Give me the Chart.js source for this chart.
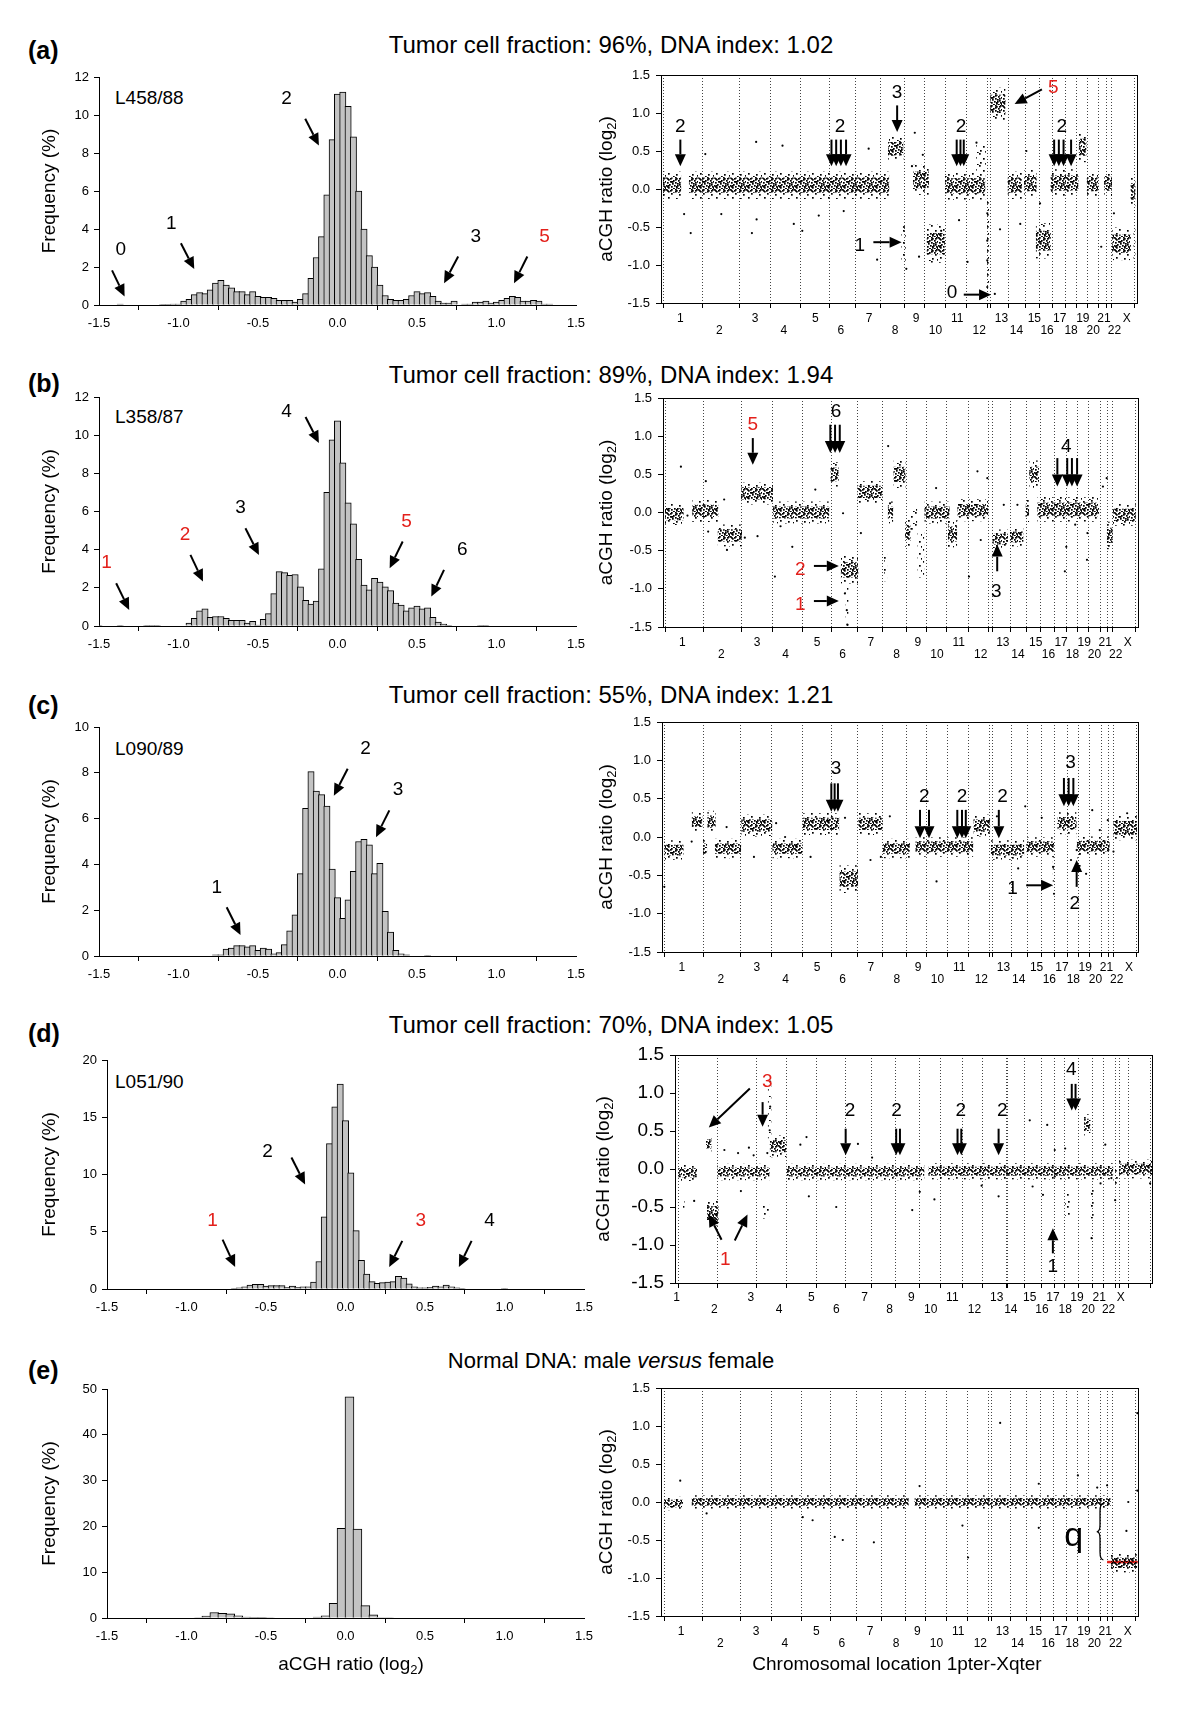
<!DOCTYPE html>
<html>
<head>
<meta charset="utf-8">
<script src="https://cdn.jsdelivr.net/npm/chart.js@4.4.1/dist/chart.umd.min.js"></script>
<style>
  body { margin: 0; background: #fff; width: 1200px; height: 1710px; position: relative; overflow: hidden;
         font-family: "Liberation Sans", Arial, Helvetica, sans-serif; color: #000; }
  canvas { position: absolute; }
  .pl { position: absolute; left: 28px; font-weight: bold; font-size: 25px; line-height: 28px; }
  .tt { position: absolute; left: 0; width: 1222px; text-align: center; font-size: 24px; line-height: 26px; }
  .sl { position: absolute; left: 115px; font-size: 19px; line-height: 22px; }
</style>
</head>
<body>
<div class="pl" style="top:36px">(a)</div>
<div class="pl" style="top:369px">(b)</div>
<div class="pl" style="top:691px">(c)</div>
<div class="pl" style="top:1019px">(d)</div>
<div class="pl" style="top:1356px">(e)</div>
<div class="tt" style="top:32px">Tumor cell fraction: 96%, DNA index: 1.02</div>
<div class="tt" style="top:362px">Tumor cell fraction: 89%, DNA index: 1.94</div>
<div class="tt" style="top:682px">Tumor cell fraction: 55%, DNA index: 1.21</div>
<div class="tt" style="top:1012px">Tumor cell fraction: 70%, DNA index: 1.05</div>
<div class="tt" style="top:1348px;font-size:22px">Normal DNA: male <i>versus</i> female</div>
<div class="sl" style="top:87px">L458/88</div>
<div class="sl" style="top:406px">L358/87</div>
<div class="sl" style="top:738px">L090/89</div>
<div class="sl" style="top:1071px">L051/90</div>
<script>
// ---------- histogram data: frequency (%) per bin ----------
const binCentres = Array.from({ length: 91 }, (_, i) => -1.5 + i / 30);   // bins 1/30 wide
const binCentresE = Array.from({ length: 60 }, (_, k) => -1.475 + k * 0.05); // bins 0.05 wide

const freqA = [0,0,0,0,0.05,0,0,0,0,0,
  0,0,0.03,0.03,0.05,0.05,0.2,0.3,0.55,0.65,
  0.6,0.8,1.15,1.3,1.05,0.9,0.7,0.7,0.55,0.7,
  0.45,0.4,0.4,0.35,0.25,0.25,0.25,0.15,0.3,0.6,
  1.4,2.5,3.6,5.8,8.7,11.1,11.2,10.45,8.85,6.0,
  4.0,2.6,2.0,1.05,0.5,0.3,0.25,0.25,0.3,0.5,
  0.7,0.6,0.65,0.45,0.2,0.1,0.1,0.2,0,0.05,
  0.05,0.15,0.15,0.2,0.1,0.15,0.25,0.35,0.45,0.4,
  0.2,0.2,0.25,0.2,0.05,0.05,0,0,0,0,0];
const freqB = [0.03,0,0,0,0.03,0,0,0,0,0.03,
  0.03,0.03,0,0,0,0,0,0.15,0.4,0.8,
  0.9,0.45,0.5,0.5,0.4,0.3,0.3,0.3,0.15,0.25,
  0.05,0.35,0.65,1.7,2.85,2.8,2.65,2.7,2.05,1.35,
  1.15,1.3,3.0,7.0,9.75,10.75,8.55,6.45,5.35,3.5,
  2.15,1.9,2.5,2.3,2.05,1.85,1.2,1.1,0.8,0.95,
  1.05,0.9,0.95,0.45,0.2,0.1,0.03,0,0,0,
  0,0,0.03,0.03,0,0,0,0,0,0,
  0,0,0,0,0,0,0,0,0,0,0];
const freqC = [0,0,0,0,0,0,0,0,0,0,
  0,0,0,0,0,0,0,0,0,0,
  0,0,0.05,0.05,0.3,0.35,0.45,0.45,0.4,0.45,
  0.25,0.35,0.3,0.1,0.15,0.5,1.1,1.8,3.6,6.45,
  8.05,7.2,7.05,6.55,3.8,2.55,1.65,2.45,3.7,5.0,
  5.1,4.85,3.6,4.05,1.95,1.05,0.25,0.1,0.05,0,
  0,0,0.03,0,0,0,0,0,0,0,
  0,0,0,0,0,0,0,0,0,0,
  0,0,0,0,0,0,0,0,0,0,0];
const freqD = [0,0,0,0,0,0,0,0,0,0,
  0,0,0,0,0,0,0,0,0,0,
  0,0,0,0,0.05,0.1,0.2,0.35,0.4,0.4,
  0.25,0.3,0.3,0.3,0.15,0.25,0.15,0.2,0.2,0.6,
  2.4,6.3,12.7,15.9,17.9,14.7,10.15,5.1,2.5,1.3,
  0.65,0.5,0.55,0.6,0.65,1.1,0.95,0.45,0.2,0.1,
  0.1,0.15,0.25,0.2,0.35,0.2,0.1,0.05,0,0,
  0,0,0,0,0,0.05,0,0,0,0,
  0,0,0,0,0,0,0,0,0,0,0];
const freqE = [0,0,0,0,0,0,0,0,0,0,
  0,0.1,0.4,1.2,1.0,0.9,0.5,0.2,0.15,0.15,
  0.1,0,0,0,0,0,0.2,0.5,3.2,19.6,
  48.3,19.4,2.7,0.7,0.1,0.1,0,0,0,0,
  0,0,0,0,0,0,0,0,0,0,
  0,0,0,0,0,0,0,0,0,0];

// ---------- genome axis (position in % of genome, 1pter -> Xqter) ----------
const chrNames = ['1','2','3','4','5','6','7','8','9','10','11','12','13','14','15','16','17','18','19','20','21','22','X'];
const chrLines = [0,8.2,16.1,22.7,29.2,35.3,40.9,46.2,51.2,55.5,59.9,64.4,68.8,69.5,73.4,76.9,79.8,82.7,85.3,87.7,90.0,92.5,94.1,95.2,100];
const chrLabelPos = [3.7,12.0,19.6,25.7,32.4,37.8,43.8,49.3,53.8,57.9,62.5,67.2,71.9,75.1,78.9,81.6,84.3,86.7,89.2,91.4,93.7,95.9,98.5];
const chrLinesD = [0,8.3,16.4,22.8,29.3,35.3,40.9,46.0,51.0,55.5,60.1,64.3,69.4,69.7,73.3,76.9,79.7,81.8,84.7,87.6,90.1,92.6,93.4,95.3,100];
const chrLabelPosD = [-0.3,7.7,15.4,21.4,28.2,33.5,39.5,44.8,49.4,53.5,58.1,62.8,67.5,70.5,74.5,77.1,79.4,82.0,84.5,86.9,89.2,91.2,93.8];

// ---------- aCGH profiles: segments [start %, end %, log2 level, half spread] ----------
const segA = [[0,3.9,0.05,0.1],[5.5,48.1,0.05,0.1],[47.8,51.1,0.53,0.09],[53.1,56.5,0.12,0.11],[56.0,59.9,-0.72,0.14],
  [59.9,68.5,0.04,0.1],[69.5,72.8,1.12,0.12],[73.2,76.3,0.05,0.1],[76.7,79.4,0.07,0.1],[79.2,82.4,-0.68,0.13],
  [82.3,88.3,0.08,0.1],[88.3,90.0,0.55,0.11],[90.0,92.5,0.06,0.09],[93.7,95.4,0.07,0.09],[95.4,99.4,-0.72,0.12],[99.3,100.4,-0.03,0.11]];
const streakA = [[50.6,51.6,-0.75,0.25],[68.6,69.3,-0.7,0.55],[66.5,68.6,0.4,0.2],[99.9,100.4,-0.7,0.25]];
const outA = [[4.5,-0.33],[5.9,-0.58],[9.0,0.46],[12.4,-0.33],[18.9,-0.58],[19.8,0.62],[19.9,-0.40],[25.4,0.57],[27.8,-0.46],
  [29.6,-0.55],[33.1,-0.35],[38.4,-0.29],[43.7,0.53],[45.5,-0.93],[53.5,0.74],[54.4,-0.89],[59.1,-0.55],[62.9,-0.41],[64.7,-0.96],
  [66.6,0.61],[68.9,-0.32],[68.9,-0.68],[68.9,-0.94],[68.9,-1.29],[70.5,-1.38],[71.6,-0.53],[75.9,-0.46],[77.2,0.50],[80.1,-0.19],
  [93.1,-0.76],[95.8,-0.32],[51.7,-1.05],[51.2,-0.5],[55.2,0.45],[52.9,0.3]];

const segB = [[0,4.0,-0.02,0.08],[5.8,11.4,0.02,0.08],[11.2,16.4,-0.3,0.08],[16.2,23.0,0.25,0.08],[23.0,35.0,0.0,0.08],
  [35.2,37.0,0.5,0.09],[37.4,41.2,-0.75,0.1],[41.0,46.3,0.27,0.08],[47.4,48.6,0.0,0.08],[48.6,51.2,0.5,0.1],[51.1,52.3,-0.27,0.1],
  [55.2,60.6,0.0,0.08],[60.2,62.2,-0.28,0.1],[62.2,68.8,0.03,0.08],[69.7,73.0,-0.35,0.07],[73.4,76.3,-0.32,0.07],[76.7,77.5,0.02,0.08],
  [77.5,79.6,0.5,0.1],[79.2,92.4,0.04,0.09],[94.0,95.3,-0.3,0.1],[95.3,100.2,-0.03,0.08]];
const streakB = [[46.6,47.3,-0.72,0.18],[53.7,55.2,-0.55,0.3],[38.4,39.1,-1.2,0.3],[52.3,53.7,-0.1,0.15]];
const outB = [[3.4,0.60],[4.8,-0.04],[8.7,0.41],[9.2,-0.25],[12.6,0.17],[13.2,-0.49],[17,-0.33],[19.7,-0.31],[23.4,-0.84],[24.6,-0.18],
  [27.1,-0.45],[32,0.30],[38.3,-1.06],[38.7,-1.28],[38.8,-1.47],[37.9,-0.01],[47.5,0.87],[41.7,-0.27],[47.9,0.12],[57.7,0.32],
  [64.7,-0.84],[66.5,0.54],[67.2,-0.36],[68.6,0.45],[72.1,0.10],[75,0.10],[85.1,-0.77],[85.4,-0.45],[87.3,-0.16],[89.8,-0.62],
  [89.9,-0.27],[93.2,0.34],[94,0.45],[64.7,0.08]];

const segC = [[0,4.1,-0.17,0.07],[5.8,8.1,0.2,0.07],[8.2,9.1,-0.15,0.07],[9.1,10.9,0.2,0.08],[10.7,16.3,-0.15,0.07],
  [16.3,22.9,0.15,0.08],[22.9,29.3,-0.15,0.07],[29.3,37.1,0.17,0.08],[37.1,41.1,-0.55,0.1],[41.1,46.3,0.17,0.08],
  [46.3,52.1,-0.15,0.07],[53.2,65.5,-0.13,0.07],[65.5,69.1,0.15,0.08],[69.2,76.3,-0.17,0.07],[76.7,82.6,-0.13,0.07],
  [83.3,87.4,0.18,0.08],[87.4,94.4,-0.12,0.07],[95.2,100.2,0.12,0.09]];
const streakC = [[82.3,82.8,-0.45,0.25],[87.5,88.3,-0.3,0.15]];
const outC = [[0,-0.65],[5.8,-0.06],[13.2,0.13],[19,-0.26],[23.7,0.18],[25.6,0.0],[28,-0.13],[31,-0.26],[34.6,0.22],[38.3,0.25],
  [43.7,-0.30],[45.9,-0.26],[47.8,0.27],[57.7,-0.58],[66.8,0.09],[70.5,0.27],[75,-0.41],[76.5,0.40],[80,0.25],[82.4,-0.39],
  [82.6,-0.74],[86.2,-0.30],[87.4,-0.17],[89.4,-0.48],[90.7,0.35],[92.3,0.09],[94,0.22],[95.2,-0.19],[98.1,0.31]];

const segD = [[0,4.0,-0.05,0.06],[5.9,7.1,0.33,0.06],[6.1,8.6,-0.58,0.09],[8.3,19.4,-0.04,0.06],[19.4,23.0,0.3,0.08],
  [23.0,52.2,-0.04,0.06],[53.0,92.2,-0.03,0.06],[86.0,87.4,0.58,0.08],[93.4,100.4,0.0,0.07]];
const streakD = [[0.9,1.4,-0.48,0.1],[17.9,19.3,-0.55,0.1],[19.0,19.8,0.75,0.35],[82.0,83.1,-0.47,0.15],[87.4,88.1,-0.45,0.2],[92.2,93.4,-0.1,0.1]];
const outD = [[3.4,-0.42],[9.8,0.25],[12.7,0.21],[13.3,-0.29],[15.0,0.28],[16.0,0.18],[19.5,1.15],[19.5,0.82],[19.4,0.51],[18.9,0.21],
  [25.9,0.32],[27.2,0.42],[27.7,-0.36],[33.5,-0.50],[38.1,0.33],[41.1,0.15],[51.2,-0.30],[49.6,-0.54],[54.3,-0.40],[64.3,-0.22],
  [67.9,-0.36],[74.5,0.64],[78.2,0.58],[75.1,-0.23],[79.8,0.25],[79.8,-0.10],[82,0.27],[87.6,-0.91],[89.5,-0.19],[90.5,0.32],
  [92.6,-0.41],[100,-0.19],[77.3,-0.34],[91.8,-0.12]];

const segE = [[0,4.1,-0.02,0.05],[5.9,52.0,0.0,0.05],[53.2,94.9,0.0,0.05],[94.9,100.5,-0.8,0.07]];
const outE = [[71.4,1.04],[3.5,0.28],[100.5,1.17],[100.5,0.15],[36.3,-0.46],[38,-0.50],[44.6,-0.53],[63.4,-0.31],[64.6,-0.73],
  [79.6,-0.34],[98.6,0.0],[29.5,-0.2],[31.6,-0.24],[87.9,0.35],[79.6,0.24],[92,0.19],[94.1,0.22],[98.2,-0.38],[9.1,-0.15],[54.3,0.21]];
const xLevelE = [[94.1,-0.79],[100.6,-0.79]];

// ---------- annotations (data coordinates) ----------
const RED = '#e3201b';
const labHA = [[-1.363,2.9,'0'],[-1.045,4.3,'1'],[-0.321,10.86,'2'],[0.869,3.57,'3'],[1.302,3.57,'5',RED]];
const arrHA = [[-1.418,1.82,-1.339,0.45],[-0.985,3.25,-0.901,1.89],[-0.203,9.8,-0.117,8.4],[0.759,2.55,0.670,1.15],[1.194,2.55,1.110,1.15]];
const labHB = [[-1.452,3.3,'1',RED],[-0.959,4.78,'2',RED],[-0.61,6.17,'3'],[-0.321,11.25,'4'],[0.434,5.47,'5',RED],[0.785,3.99,'6']];
const arrHB = [[-1.392,2.24,-1.31,0.84],[-0.925,3.73,-0.846,2.33],[-0.579,5.12,-0.494,3.72],[-0.201,10.95,-0.117,9.59],[0.41,4.43,0.328,3.03],[0.67,2.94,0.59,1.54]];
const labHC = [[-0.759,2.96,'1'],[0.177,9.04,'2'],[0.381,7.26,'3']];
const arrHC = [[-0.697,2.13,-0.61,0.92],[0.064,8.18,-0.023,7.0],[0.326,6.36,0.242,5.19]];
const labHD = [[-0.49,11.98,'2'],[-0.836,6.0,'1',RED],[0.473,6.0,'3',RED],[0.906,6.0,'4']];
const arrHD = [[-0.34,11.49,-0.254,9.13],[-0.773,4.31,-0.694,1.92],[0.357,4.2,0.275,1.92],[0.793,4.2,0.713,1.92]];

const labSA = [[3.7,0.816,'2'],[37.6,0.816,'2'],[49.75,1.27,'3'],[63.3,0.816,'2'],[84.7,0.816,'2'],[82.9,1.33,'5',RED],[41.8,-0.745,'1'],[61.4,-1.36,'0']];
const arrSA = [[3.7,0.65,3.7,0.3],[35.8,0.65,35.8,0.3],[36.8,0.65,36.8,0.3],[37.8,0.65,37.8,0.3],[38.9,0.65,38.9,0.3],
  [49.75,1.1,49.75,0.75],[62.4,0.65,62.4,0.3],[63.2,0.65,63.2,0.3],[63.9,0.65,63.9,0.3],
  [83.1,0.65,83.1,0.3],[84.1,0.65,84.1,0.3],[85.1,0.65,85.1,0.3],[86.7,0.65,86.7,0.3],
  [80.5,1.31,74.7,1.12],[44.7,-0.70,50.7,-0.70],[63.9,-1.39,69.7,-1.39]];
const labSB = [[18.7,1.15,'5',RED],[36.4,1.325,'6'],[85.4,0.866,'4'],[28.8,-0.75,'2',RED],[28.8,-1.21,'1',RED],[70.5,-1.04,'3']];
const arrSB = [[18.7,0.975,18.7,0.625],[35.2,1.15,35.2,0.78],[36.2,1.15,36.2,0.78],[37.2,1.15,37.2,0.78],
  [83.5,0.713,83.5,0.34],[85.6,0.713,85.6,0.34],[86.6,0.713,86.6,0.34],[87.7,0.713,87.7,0.34],
  [31.7,-0.70,37.0,-0.70],[31.7,-1.16,37.0,-1.16],[70.7,-0.77,70.7,-0.42]];
const labSC = [[36.4,0.887,'3'],[55.1,0.52,'2'],[63.1,0.52,'2'],[71.7,0.52,'2'],[86.1,0.965,'3'],[73.8,-0.67,'1'],[87.0,-0.87,'2']];
const arrSC = [[35.4,0.70,35.4,0.33],[36.1,0.70,36.1,0.33],[36.8,0.70,36.8,0.33],
  [54.2,0.354,54.2,-0.017],[56.1,0.354,56.1,-0.017],[62.1,0.354,62.1,-0.017],[63.1,0.354,63.1,-0.017],[63.9,0.354,63.9,-0.017],
  [70.9,0.354,70.9,-0.017],[84.7,0.77,84.7,0.40],[85.7,0.77,85.7,0.40],[86.7,0.77,86.7,0.40],
  [76.7,-0.63,82.4,-0.63],[87.4,-0.65,87.4,-0.30]];
const labSD = [[18.9,1.146,'3',RED],[10.0,-1.19,'1',RED],[36.4,0.77,'2'],[46.3,0.77,'2'],[59.9,0.77,'2'],[68.7,0.77,'2'],[83.3,1.31,'4'],[79.4,-1.28,'1']];
const arrSD = [[15.2,1.06,6.5,0.547],[17.9,0.88,17.9,0.556],[9.2,-0.93,6.5,-0.6],[12.0,-0.94,14.7,-0.6],
  [35.5,0.53,35.5,0.18],[46.2,0.53,46.2,0.18],[47.0,0.53,47.0,0.18],[59.2,0.53,59.2,0.18],[60.0,0.53,60.0,0.18],
  [67.9,0.53,67.9,0.18],[83.4,1.12,83.4,0.77],[84.2,1.12,84.2,0.77],[79.4,-1.11,79.4,-0.78]];

// ---------- helpers ----------
const FONT = '"Liberation Sans", Arial, Helvetica, sans-serif';
Chart.defaults.font.family = FONT;
Chart.defaults.color = '#000';

function place(l, t, w, h) {
  const c = document.createElement('canvas');
  c.width = w; c.height = h;
  c.style.left = l + 'px'; c.style.top = t + 'px';
  document.body.appendChild(c);
  return c;
}

// speckle textures used to shade the probe clouds
function tilePattern(w, h, dots) {
  const c = document.createElement('canvas');
  c.width = w; c.height = h;
  const g = c.getContext('2d');
  g.fillStyle = '#000';
  dots.forEach(d => g.fillRect(d[0], d[1], 1.7, 1.7));
  return g.createPattern(c, 'repeat');
}
const dense = tilePattern(16, 12, [[0,0],[5,0],[10,1],[14,0],[2,2],[7,3],[12,3],[4,4],[9,5],[15,4],[1,5],[6,6],[11,6],
  [13,7],[3,7],[8,8],[0,8],[14,9],[5,9],[10,10],[2,10],[7,11],[12,11],[15,11],[4,1],[9,2],[13,1],[1,9],[6,4],[11,8]]);
const sparse = tilePattern(16, 12, [[1,1],[9,0],[5,4],[13,5],[2,8],[10,9],[7,11],[15,10]]);

function arrow(ctx, x1, y1, x2, y2) {
  const a = Math.atan2(y2 - y1, x2 - x1), hl = 12, hw = 5.5;
  const bx = x2 - hl * Math.cos(a), by = y2 - hl * Math.sin(a);
  ctx.strokeStyle = '#000'; ctx.fillStyle = '#000'; ctx.lineWidth = 2;
  ctx.beginPath(); ctx.moveTo(x1, y1); ctx.lineTo(bx, by); ctx.stroke();
  ctx.beginPath(); ctx.moveTo(x2, y2);
  ctx.lineTo(bx + hw * Math.sin(a), by - hw * Math.cos(a));
  ctx.lineTo(bx - hw * Math.sin(a), by + hw * Math.cos(a));
  ctx.closePath(); ctx.fill();
}

// text with a subscript part, optionally rotated
function subText(ctx, main, sub, tail, x, y, size, rot) {
  ctx.save();
  ctx.translate(x, y);
  if (rot) ctx.rotate(-Math.PI / 2);
  const f = size + 'px ' + FONT, fs = Math.round(size * 0.68) + 'px ' + FONT;
  ctx.font = f; const w1 = ctx.measureText(main).width, w3 = ctx.measureText(tail).width;
  ctx.font = fs; const w2 = ctx.measureText(sub).width;
  const x0 = -(w1 + w2 + w3) / 2;
  ctx.textBaseline = 'middle'; ctx.textAlign = 'left'; ctx.fillStyle = '#000';
  ctx.font = f; ctx.fillText(main, x0, 0);
  ctx.font = fs; ctx.fillText(sub, x0 + w1, size * 0.3);
  ctx.font = f; ctx.fillText(tail, x0 + w1 + w2, 0);
  ctx.restore();
}

function deco(d) {
  return {
    id: 'deco',
    beforeDatasetsDraw(chart) {
      if (!d.lines) return;
      const { ctx, chartArea: a, scales: { x } } = chart;
      ctx.save();
      ctx.setLineDash([1, 2]); ctx.strokeStyle = '#444'; ctx.lineWidth = 1;
      d.lines.forEach(v => {
        const px = Math.round(x.getPixelForValue(v)) + 0.5;
        ctx.beginPath(); ctx.moveTo(px, a.top); ctx.lineTo(px, a.bottom); ctx.stroke();
      });
      ctx.restore();
    },
    afterDraw(chart) {
      const { ctx, chartArea: a, scales: { x, y } } = chart;
      ctx.save();
      if (d.lines) {
        ctx.strokeStyle = '#000'; ctx.lineWidth = 1;
        ctx.strokeRect(Math.round(a.left) + 0.5, Math.round(a.top) + 0.5, Math.round(a.right - a.left), Math.round(a.bottom - a.top));
        d.lines.forEach(v => {
          const px = Math.round(x.getPixelForValue(v)) + 0.5;
          ctx.beginPath(); ctx.moveTo(px, a.bottom); ctx.lineTo(px, a.bottom + 5); ctx.stroke();
        });
      }
      (d.arrows || []).forEach(r => arrow(ctx, x.getPixelForValue(r[0]), y.getPixelForValue(r[1]), x.getPixelForValue(r[2]), y.getPixelForValue(r[3])));
      ctx.font = '19px ' + FONT; ctx.textAlign = 'center'; ctx.textBaseline = 'middle';
      (d.labels || []).forEach(l => { ctx.fillStyle = l[3] || '#000'; ctx.fillText(l[2], x.getPixelForValue(l[0]), y.getPixelForValue(l[1])); });
      const midY = (a.top + a.bottom) / 2;
      if (d.yTitle === 'freq') {
        ctx.save(); ctx.translate(d.yTitleX - d.ox, midY); ctx.rotate(-Math.PI / 2);
        ctx.font = '19px ' + FONT; ctx.fillStyle = '#000'; ctx.textAlign = 'center'; ctx.textBaseline = 'middle';
        ctx.fillText('Frequency (%)', 0, 0); ctx.restore();
      } else if (d.yTitle === 'ratio') {
        subText(ctx, 'aCGH ratio (log', '2', ')', d.yTitleX - d.ox, midY, 19, true);
      }
      if (d.xTitle === 'ratio') subText(ctx, 'aCGH ratio (log', '2', ')', d.xTitleX - d.ox, d.xTitleY - d.oy, 19, false);
      if (d.xTitle === 'chrom') {
        ctx.font = '19px ' + FONT; ctx.fillStyle = '#000'; ctx.textAlign = 'center'; ctx.textBaseline = 'middle';
        ctx.fillText('Chromosomal location 1pter-Xqter', d.xTitleX - d.ox, d.xTitleY - d.oy);
      }
      if (d.brace) {
        const xr = x.getPixelForValue(93.3), xm = x.getPixelForValue(92.6), xt = x.getPixelForValue(91.9);
        const yt = y.getPixelForValue(-0.02), yb = y.getPixelForValue(-0.76), ym = (yt + yb) / 2;
        ctx.strokeStyle = '#000'; ctx.lineWidth = 1.3;
        ctx.beginPath();
        ctx.moveTo(xr, yt); ctx.quadraticCurveTo(xm, yt, xm, yt + 8);
        ctx.lineTo(xm, ym - 7); ctx.quadraticCurveTo(xm, ym, xt, ym);
        ctx.quadraticCurveTo(xm, ym, xm, ym + 7);
        ctx.lineTo(xm, yb - 8); ctx.quadraticCurveTo(xm, yb, xr, yb);
        ctx.stroke();
        ctx.font = '34px ' + FONT; ctx.fillStyle = '#000'; ctx.textAlign = 'center'; ctx.textBaseline = 'middle';
        ctx.fillText('q', x.getPixelForValue(87.0), y.getPixelForValue(-0.46));
      }
      ctx.restore();
    }
  };
}

const baseOpts = {
  responsive: false, animation: false, events: [], devicePixelRatio: 1,
  plugins: { legend: { display: false }, tooltip: { enabled: false } }
};

// ---------- histogram panels ----------
function histogram(rect, bins, freq, binW, yMax, yStep, ann) {
  const YW = 80, XH = ann.xTitle ? 80 : 45;
  const ox = rect.l - YW, oy = rect.t - 30;
  const cv = place(ox, oy, rect.r - rect.l + YW + 30, rect.b - rect.t + 30 + XH);
  new Chart(cv, {
    type: 'bar',
    data: { datasets: [{
      data: bins.map((b, i) => ({ x: b, y: freq[i] })),
      backgroundColor: '#c3c3c3', borderColor: '#000', borderWidth: 1,
      barThickness: (rect.r - rect.l) * binW / 3 + 1
    }] },
    options: Object.assign({}, baseOpts, {
      layout: { padding: { left: 0, top: 30, right: 30, bottom: 0 } },
      scales: {
        x: { type: 'linear', min: -1.5, max: 1.5, offset: false,
          afterFit: s => { s.height = XH; },
          ticks: { stepSize: 0.5, padding: 6, color: '#000', font: { size: 13 }, callback: v => v.toFixed(1) },
          grid: { display: true, drawOnChartArea: false, tickLength: 5, tickColor: '#000' },
          border: { display: true, color: '#000' } },
        y: { min: 0, max: yMax,
          afterFit: s => { s.width = YW; },
          ticks: { stepSize: yStep, padding: 5, color: '#000', font: { size: 13 } },
          grid: { display: true, drawOnChartArea: false, tickLength: 5, tickColor: '#000' },
          border: { display: true, color: '#000' } }
      }
    }),
    plugins: [deco(Object.assign({ ox, oy, yTitle: 'freq', yTitleX: 50 }, ann))]
  });
}

// ---------- genome profile panels ----------
function band(s, k, pat) {
  const hi = s[2] + s[3] * k, lo = s[2] - s[3] * k;
  return { data: [{ x: s[0], y: hi }, { x: s[1], y: hi }], fill: { value: lo },
    backgroundColor: pat, borderWidth: 0, pointRadius: 0 };
}

function profile(rect, p) {
  const XH = p.xTitle ? 80 : 45;
  const ox = 586, oy = rect.t - 30, YW = rect.l - ox;
  const cv = place(ox, oy, rect.r - rect.l + YW + 30, rect.b - rect.t + 30 + XH);
  const sets = [];
  p.streaks.forEach(s => sets.push(band(s, 1, sparse)));
  p.segs.forEach(s => sets.push(band(s, 1.8, sparse)));
  p.segs.forEach(s => sets.push(band(s, 1, dense)));
  sets.push({ data: p.out.map(q => ({ x: q[0], y: q[1] })), showLine: false, pointRadius: 1.1,
    pointBackgroundColor: '#000', pointBorderWidth: 0, borderWidth: 0 });
  if (p.red) sets.push({ data: p.red.map(q => ({ x: q[0], y: q[1] })), borderColor: RED, borderWidth: 2.5, pointRadius: 0, fill: false });
  const names = chrNames;
  new Chart(cv, {
    type: 'line',
    data: { datasets: sets },
    options: Object.assign({}, baseOpts, {
      layout: { padding: { left: 0, top: 30, right: 30, bottom: 0 } },
      scales: {
        x: { type: 'linear', min: p.xMin, max: p.xMax,
          afterBuildTicks: s => { s.ticks = p.labelPos.map(v => ({ value: v })); },
          afterFit: s => { s.height = XH; },
          grid: { display: false, drawTicks: false }, border: { display: false },
          ticks: { autoSkip: false, maxRotation: 0, minRotation: 0, padding: p.xPad || 10, color: '#000',
            font: { size: 12, lineHeight: 1 },
            callback: (v, i) => i % 2 === 0 ? [names[i], ''] : ['', names[i]] } },
        y: { min: -1.5, max: 1.5,
          afterFit: s => { s.width = YW; },
          ticks: { stepSize: 0.5, padding: 6, color: '#000', font: p.yFont || { size: 13 }, callback: v => v.toFixed(1) },
          grid: { display: true, drawOnChartArea: false, tickLength: 5, tickColor: '#000' },
          border: { display: false } }
      }
    }),
    plugins: [deco({ ox, oy, lines: p.lines, arrows: p.arrows, labels: p.labels, yTitle: 'ratio', yTitleX: p.yTitleX || 607,
      xTitle: p.xTitle, xTitleX: 897, xTitleY: 1665, brace: p.brace })]
  });
}

// histograms
histogram({ l: 99, r: 576, t: 77, b: 305 }, binCentres, freqA, 1 / 30, 12, 2, { labels: labHA, arrows: arrHA });
histogram({ l: 99, r: 576, t: 397, b: 626 }, binCentres, freqB, 1 / 30, 12, 2, { labels: labHB, arrows: arrHB });
histogram({ l: 99, r: 576, t: 727, b: 956 }, binCentres, freqC, 1 / 30, 10, 2, { labels: labHC, arrows: arrHC });
histogram({ l: 107, r: 584, t: 1060, b: 1289 }, binCentres, freqD, 1 / 30, 20, 5, { labels: labHD, arrows: arrHD });
histogram({ l: 107, r: 584, t: 1389, b: 1618 }, binCentresE, freqE, 0.05, 50, 10, { xTitle: 'ratio', xTitleX: 351, xTitleY: 1665 });

// genome profiles
profile({ l: 661, r: 1137, t: 75, b: 303 }, { segs: segA, streaks: streakA, out: outA, lines: chrLines, labelPos: chrLabelPos,
  xMin: -0.41, xMax: 100.7, labels: labSA, arrows: arrSA });
profile({ l: 663, r: 1138, t: 398, b: 627 }, { segs: segB, streaks: streakB, out: outB, lines: chrLines, labelPos: chrLabelPos,
  xMin: -0.41, xMax: 100.66, labels: labSB, arrows: arrSB });
profile({ l: 662, r: 1138, t: 722, b: 952 }, { segs: segC, streaks: streakC, out: outC, lines: chrLines, labelPos: chrLabelPos,
  xMin: -0.49, xMax: 100.4, labels: labSC, arrows: arrSC });
profile({ l: 675, r: 1152, t: 1055, b: 1283 }, { segs: segD, streaks: streakD, out: outD, lines: chrLinesD, labelPos: chrLabelPosD,
  xMin: -0.66, xMax: 100.4, labels: labSD, arrows: arrSD, xPad: 9, yTitleX: 604,
  yFont: { size: 19 } });
profile({ l: 661, r: 1138, t: 1388, b: 1616 }, { segs: segE, streaks: [], out: outE, lines: chrLines, labelPos: chrLabelPos,
  xMin: -0.58, xMax: 100.66, red: xLevelE, brace: true, xTitle: 'chrom' });
</script>
</body>
</html>
